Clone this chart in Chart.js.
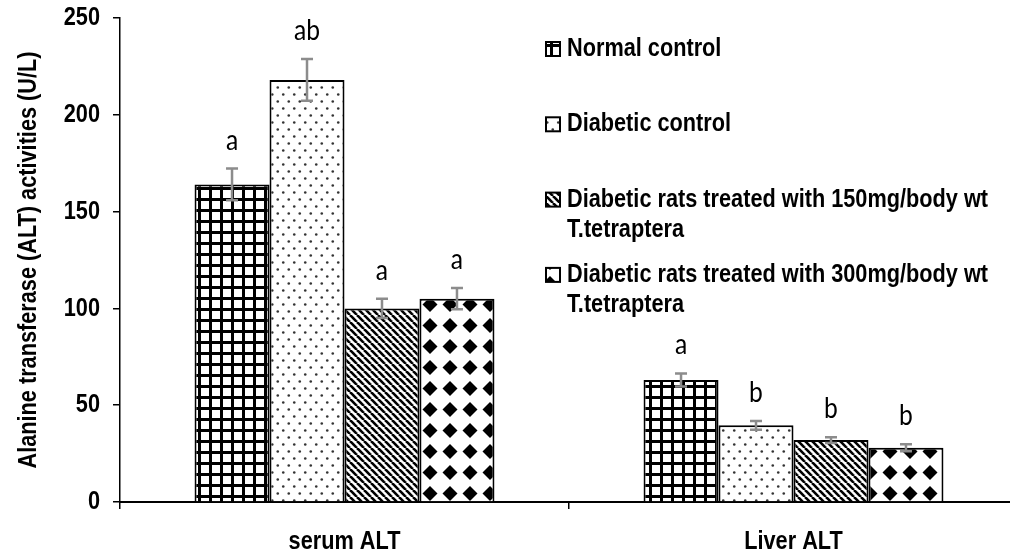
<!DOCTYPE html>
<html>
<head>
<meta charset="utf-8">
<script src="https://cdn.jsdelivr.net/npm/chart.js@4.4.1/dist/chart.umd.min.js"></script>
<style>
  html, body { margin: 0; padding: 0; background: #fff; overflow: hidden; }
  #wrap { width: 1030px; height: 556px; }
</style>
</head>
<body>
<div id="wrap"><canvas id="chart" width="1030" height="556"></canvas></div>
<script>
// categories and series
const categories = ['serum ALT', 'Liver ALT'];
const legendLines = [
    ['Normal control'],
    ['Diabetic control'],
    ['Diabetic rats treated with 150mg/body wt', 'T.tetraptera'],
    ['Diabetic rats treated with 300mg/body wt', 'T.tetraptera']
];
const normalControl = [164, 63];
const diabeticControl = [218, 39.6];
const treated150 = [100, 32];
const treated300 = [105, 28];

// standard error (half-length of the bars)
const normalErr = [8.2, 3.4];
const diabeticErr = [10.8, 2.3];
const treated150Err = [5, 1.5];
const treated300Err = [5.5, 1.8];

// significance letters
const normalLetters = ['a', 'a'];
const diabeticLetters = ['ab', 'b'];
const treated150Letters = ['a', 'b'];
const treated300Letters = ['a', 'b'];

const yTicks = [0, 50, 100, 150, 200, 250];
const yTitle = 'Alanine transferase (ALT) activities (U/L)';

// the original uses a narrow bold face; squeeze Liberation Sans to match it
const BOLD = "bold 26px 'Liberation Sans', Arial, sans-serif";
const SQUEEZE = 0.835;

const ctx = document.getElementById('chart').getContext('2d');

function makePattern(w, h, draw) {
    let c = document.createElement('canvas');
    c.width = w;
    c.height = h;
    let g = c.getContext('2d');
    g.fillStyle = '#fff';
    g.fillRect(0, 0, w, h);
    draw(g, w, h);
    return ctx.createPattern(c, 'repeat');
}

// large grid
const gridPattern = makePattern(11, 11, (g, w, h) => {
    g.fillStyle = '#000';
    g.fillRect(0, 0, w, 3);
    g.fillRect(0, 0, 3, h);
});

// small staggered dots
const dotPattern = makePattern(11, 14, (g) => {
    g.fillStyle = '#333';
    for (let [x, y] of [[2.75, 3.5], [8.25, 10.5]]) {
        g.beginPath();
        g.arc(x, y, 1.3, 0, Math.PI * 2);
        g.fill();
    }
});

// downward diagonal stripes
const stripePattern = makePattern(7, 7, (g, w) => {
    g.strokeStyle = '#000';
    g.lineWidth = 2.6;
    for (let k = -1; k <= 1; k++) {
        g.beginPath();
        g.moveTo(k * w, 0);
        g.lineTo(k * w + w, w);
        g.stroke();
    }
});

// solid diamonds
const diamondPattern = makePattern(20, 21, (g) => {
    g.fillStyle = '#000';
    g.beginPath();
    g.moveTo(10, 3);
    g.lineTo(17.5, 10.5);
    g.lineTo(10, 18);
    g.lineTo(2.5, 10.5);
    g.closePath();
    g.fill();
});

const seriesValues = [normalControl, diabeticControl, treated150, treated300];
const seriesErrors = [normalErr, diabeticErr, treated150Err, treated300Err];
const seriesLetters = [normalLetters, diabeticLetters, treated150Letters, treated300Letters];
const seriesFills = [gridPattern, dotPattern, stripePattern, diamondPattern];

const datasets = seriesValues.map((vals, i) => ({
    label: legendLines[i].join(' '),
    data: vals,
    backgroundColor: seriesFills[i],
    borderColor: '#000',
    borderWidth: 2,
    borderSkipped: 'bottom',
    barPercentage: 1,
    categoryPercentage: 0.668
}));

function squeezedText(c, text, x, y, align, sx, angle) {
    c.save();
    c.translate(x, y);
    if (angle) c.rotate(angle);
    c.scale(sx, 1);
    c.textAlign = align;
    c.fillText(text, 0, 0);
    c.restore();
}

// error bars + letters
const errorBarPlugin = {
    id: 'errorBars',
    afterDatasetsDraw(chart) {
        let c = chart.ctx;
        let y = chart.scales.y;
        c.save();
        seriesValues.forEach((vals, i) => {
            let meta = chart.getDatasetMeta(i);
            meta.data.forEach((bar, j) => {
                let hi = y.getPixelForValue(vals[j] + seriesErrors[i][j]);
                let lo = y.getPixelForValue(vals[j] - seriesErrors[i][j]);
                c.strokeStyle = '#8c8c8c';
                c.lineWidth = 2.5;
                c.beginPath();
                c.moveTo(bar.x, hi);
                c.lineTo(bar.x, lo);
                c.moveTo(bar.x - 6, hi);
                c.lineTo(bar.x + 6, hi);
                c.moveTo(bar.x - 6, lo);
                c.lineTo(bar.x + 6, lo);
                c.stroke();

                c.fillStyle = '#000';
                c.font = "29px Lato, 'Open Sans', sans-serif";
                c.textBaseline = 'alphabetic';
                squeezedText(c, seriesLetters[i][j], bar.x, hi - 19, 'center', 0.85);
            });
        });
        c.restore();
    }
};

// axis texts and legend, drawn narrow like the original
const textPlugin = {
    id: 'narrowTexts',
    afterDraw(chart) {
        let c = chart.ctx;
        let x = chart.scales.x;
        let y = chart.scales.y;
        let area = chart.chartArea;
        c.save();
        c.font = BOLD;
        c.fillStyle = '#000';
        c.textBaseline = 'middle';

        y.ticks.forEach(t => {
            squeezedText(c, String(t.value), area.left - 20, y.getPixelForValue(t.value), 'right', SQUEEZE);
        });
        squeezedText(c, yTitle, 29, (area.top + area.bottom) / 2, 'center', SQUEEZE, -Math.PI / 2);

        categories.forEach((label, i) => {
            squeezedText(c, label, x.getPixelForValue(i), area.bottom + 40, 'center', SQUEEZE);
        });

        legendLines.forEach((lines, i) => {
            let top = 49 + i * 75.3;
            c.fillStyle = seriesFills[i];
            c.fillRect(546, top - 7, 14, 14);
            c.strokeStyle = '#000';
            c.lineWidth = 2;
            c.strokeRect(546, top - 7, 14, 14);
            c.fillStyle = '#000';
            lines.forEach((t, k) => squeezedText(c, t, 567, top + k * 30, 'left', SQUEEZE));
        });
        c.restore();
    }
};

new Chart(ctx, {
    type: 'bar',
    data: {
        labels: categories,
        datasets: datasets
    },
    options: {
        responsive: false,
        animation: false,
        devicePixelRatio: 1,
        layout: {
            padding: { left: 0, top: 18, right: 12, bottom: 0 }
        },
        plugins: {
            legend: { display: false },
            tooltip: { enabled: false }
        },
        scales: {
            x: {
                afterFit: (scale) => { scale.height = 54; },
                border: { display: true, color: '#000', width: 2 },
                grid: {
                    offset: true,
                    drawOnChartArea: false,
                    drawTicks: true,
                    tickLength: 7,
                    color: '#000',
                    lineWidth: 1.5
                },
                ticks: { display: false }
            },
            y: {
                min: 0,
                max: 250,
                afterFit: (scale) => { scale.width = 120; },
                afterBuildTicks: (scale) => {
                    scale.ticks = yTicks.map(v => ({ value: v }));
                },
                border: { display: true, color: '#000', width: 1.5 },
                grid: {
                    drawOnChartArea: false,
                    drawTicks: true,
                    tickLength: 7,
                    color: '#000',
                    lineWidth: 1.5
                },
                ticks: { display: false }
            }
        }
    },
    plugins: [errorBarPlugin, textPlugin]
});
</script>
</body>
</html>
